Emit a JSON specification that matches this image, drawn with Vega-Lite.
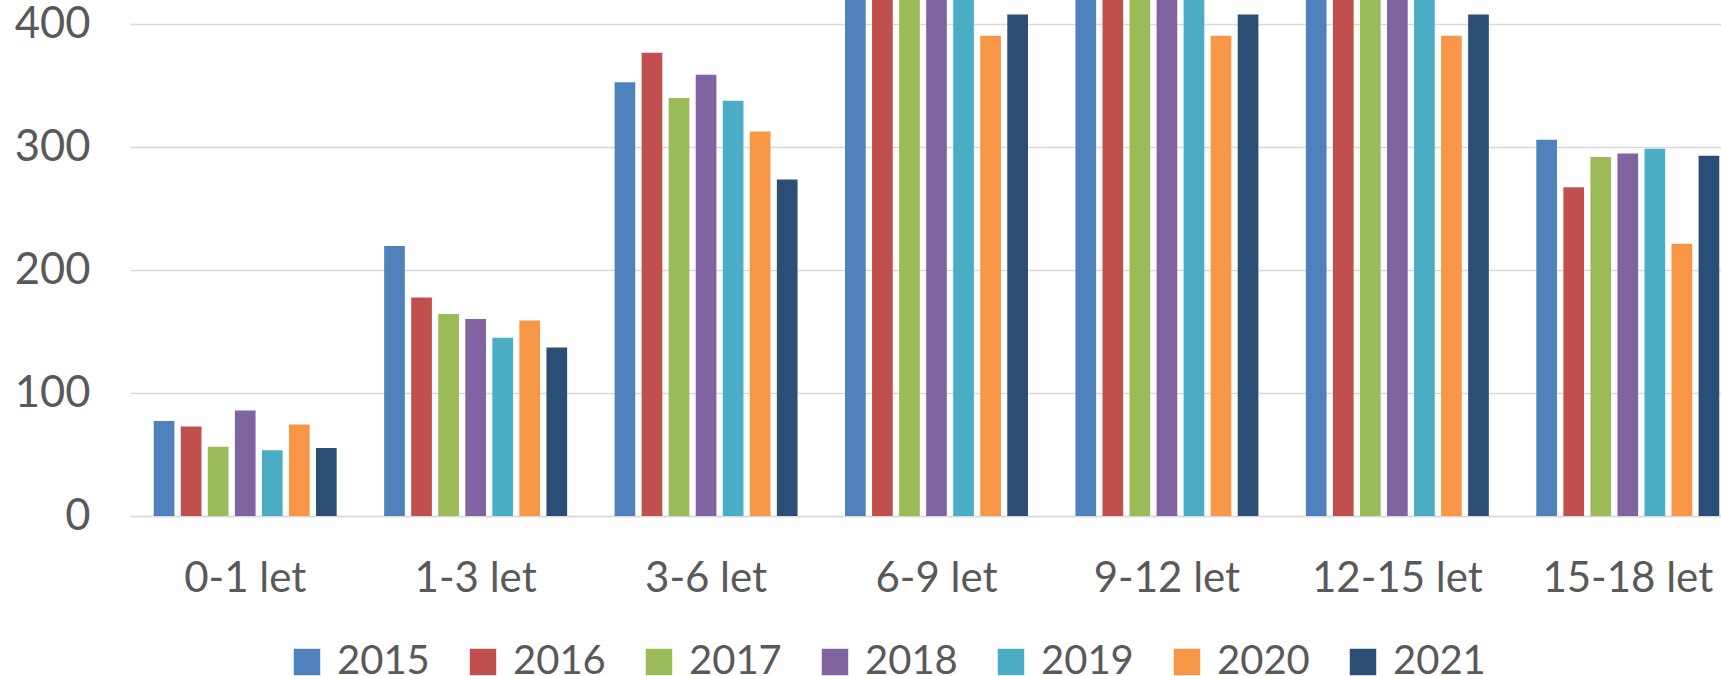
{
  "$schema": "https://vega.github.io/schema/vega-lite/v6.json",
  "width": 1613,
  "height": 516,
  "padding": {"left": 0, "top": 0, "right": 0, "bottom": 0},
  "background": "#ffffff",
  "config": {
    "font": "Lato",
    "view": {"stroke": null},
    "axis": {"labelColor": "#595959", "labelFont": "Lato", "titleColor": "#595959"}
  },
  "data": {
    "values": [
      {"g": "0-1 let", "year": "2015", "v": 77.3},
      {"g": "0-1 let", "year": "2016", "v": 72.8},
      {"g": "0-1 let", "year": "2017", "v": 56.3},
      {"g": "0-1 let", "year": "2018", "v": 85.7},
      {"g": "0-1 let", "year": "2019", "v": 53.4},
      {"g": "0-1 let", "year": "2020", "v": 74.5},
      {"g": "0-1 let", "year": "2021", "v": 55.3},
      {"g": "1-3 let", "year": "2015", "v": 219.6},
      {"g": "1-3 let", "year": "2016", "v": 177.6},
      {"g": "1-3 let", "year": "2017", "v": 164.2},
      {"g": "1-3 let", "year": "2018", "v": 160.1},
      {"g": "1-3 let", "year": "2019", "v": 145.0},
      {"g": "1-3 let", "year": "2020", "v": 159.0},
      {"g": "1-3 let", "year": "2021", "v": 137.0},
      {"g": "3-6 let", "year": "2015", "v": 352.8},
      {"g": "3-6 let", "year": "2016", "v": 376.7},
      {"g": "3-6 let", "year": "2017", "v": 339.9},
      {"g": "3-6 let", "year": "2018", "v": 358.8},
      {"g": "3-6 let", "year": "2019", "v": 337.7},
      {"g": "3-6 let", "year": "2020", "v": 312.7},
      {"g": "3-6 let", "year": "2021", "v": 273.7},
      {"g": "6-9 let", "year": "2015", "v": 470},
      {"g": "6-9 let", "year": "2016", "v": 480},
      {"g": "6-9 let", "year": "2017", "v": 460},
      {"g": "6-9 let", "year": "2018", "v": 475},
      {"g": "6-9 let", "year": "2019", "v": 455},
      {"g": "6-9 let", "year": "2020", "v": 390.6},
      {"g": "6-9 let", "year": "2021", "v": 407.8},
      {"g": "9-12 let", "year": "2015", "v": 470},
      {"g": "9-12 let", "year": "2016", "v": 480},
      {"g": "9-12 let", "year": "2017", "v": 460},
      {"g": "9-12 let", "year": "2018", "v": 475},
      {"g": "9-12 let", "year": "2019", "v": 455},
      {"g": "9-12 let", "year": "2020", "v": 390.6},
      {"g": "9-12 let", "year": "2021", "v": 407.8},
      {"g": "12-15 let", "year": "2015", "v": 470},
      {"g": "12-15 let", "year": "2016", "v": 480},
      {"g": "12-15 let", "year": "2017", "v": 460},
      {"g": "12-15 let", "year": "2018", "v": 475},
      {"g": "12-15 let", "year": "2019", "v": 455},
      {"g": "12-15 let", "year": "2020", "v": 390.6},
      {"g": "12-15 let", "year": "2021", "v": 407.8},
      {"g": "15-18 let", "year": "2015", "v": 306.0},
      {"g": "15-18 let", "year": "2016", "v": 267.4},
      {"g": "15-18 let", "year": "2017", "v": 291.9},
      {"g": "15-18 let", "year": "2018", "v": 294.7},
      {"g": "15-18 let", "year": "2019", "v": 298.6},
      {"g": "15-18 let", "year": "2020", "v": 221.4},
      {"g": "15-18 let", "year": "2021", "v": 293.0}
    ]
  },
  "mark": {"type": "bar", "clip": true},
  "encoding": {
    "x": {
      "field": "g",
      "type": "nominal",
      "sort": null,
      "scale": {"paddingInner": 0.206, "paddingOuter": 0.103},
      "axis": {
        "title": null,
        "labelAngle": 0,
        "labelFontSize": 42,
        "labelPadding": 42,
        "ticks": false,
        "domain": true,
        "domainColor": "#d9d9d9",
        "domainWidth": 1.5,
        "grid": false
      }
    },
    "xOffset": {
      "field": "year",
      "type": "nominal",
      "scale": {"paddingInner": 0.235, "paddingOuter": 0}
    },
    "y": {
      "field": "v",
      "type": "quantitative",
      "scale": {"domain": [0, 419.6], "nice": false, "zero": true},
      "axis": {
        "title": null,
        "values": [0, 100, 200, 300, 400],
        "labelFontSize": 43.5,
        "labelPadding": 40,
        "ticks": false,
        "domain": false,
        "gridColor": "#d9d9d9",
        "gridWidth": 1.5,
        "minExtent": 130,
        "maxExtent": 130
      }
    },
    "color": {
      "field": "year",
      "type": "nominal",
      "scale": {
        "domain": ["2015", "2016", "2017", "2018", "2019", "2020", "2021"],
        "range": ["#4f81bd", "#c0504d", "#9bbb59", "#8064a2", "#4bacc6", "#f79646", "#2c4d75"]
      },
      "legend": {
        "title": null,
        "orient": "none",
        "legendX": 157,
        "legendY": 642,
        "direction": "horizontal",
        "symbolType": "square",
        "symbolSize": 700,
        "symbolStrokeWidth": 0,
        "symbolOpacity": 1,
        "labelFontSize": 40,
        "labelColor": "#595959",
        "labelOffset": 10,
        "columnPadding": 33,
        "padding": 0
      }
    }
  }
}
